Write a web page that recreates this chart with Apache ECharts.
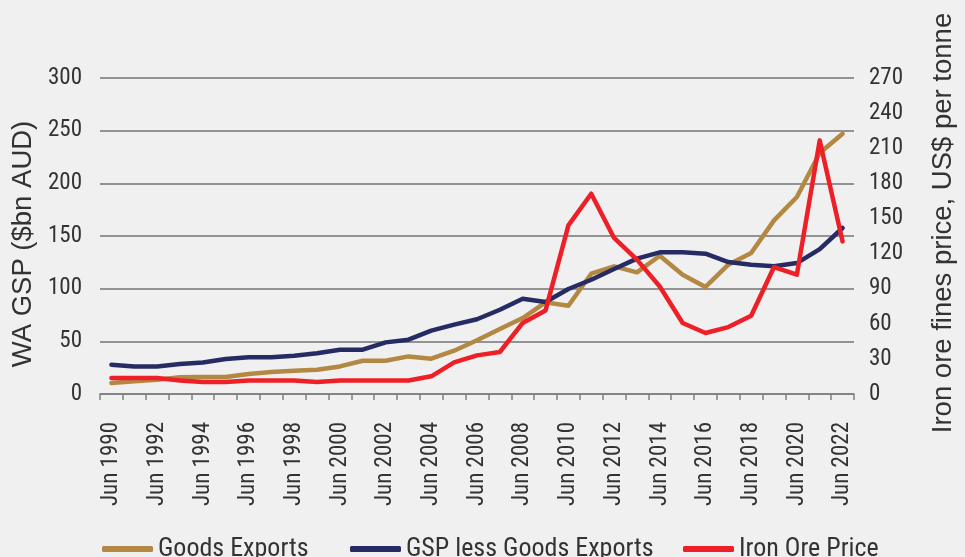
<!DOCTYPE html>
<html>
<head>
<meta charset="utf-8">
<script src="https://cdn.jsdelivr.net/npm/echarts@6/dist/echarts.min.js"></script>
<style>
html,body{margin:0;padding:0;background:#eff0ef;}
#c{width:965px;height:557px;}
</style>
</head>
<body>
<div id="c"></div>
<script>
const years = [1990,1991,1992,1993,1994,1995,1996,1997,1998,1999,2000,2001,2002,2003,2004,2005,2006,2007,2008,2009,2010,2011,2012,2013,2014,2015,2016,2017,2018,2019,2020,2021,2022];
const categories = years.map(y => 'Jun ' + y);
const goodsExports = [10.4,12.0,13.6,15.8,16.1,16.1,19.0,20.9,22.1,23.1,26.2,31.6,31.6,35.7,33.5,41.1,51,61.7,72.1,87.0,83.8,114.2,121.2,115.5,131.3,113.3,101.6,122.8,133.9,164.8,187,228.8,247.1];
const gspLessGoods = [27.8,26.2,26.2,28.5,30.0,33.2,34.8,34.8,36.4,38.6,42.1,42.1,49.0,51.6,60.1,65.8,71,80.0,90.5,87.3,99.7,108.5,118.6,128.5,134.5,134.5,133.2,125.3,122.8,121.2,124.3,137.6,157.6];
const ironOre = [13.6,13.6,13.6,11.6,10.2,10.2,11.6,11.6,11.6,10.2,11.6,11.6,11.6,11.6,15.1,27.0,33,35.9,60.7,71.4,144.1,171.1,133.3,114.8,91.9,60.7,52.1,57.2,66.9,108.5,101.9,216.7,130.4];
const leftTicks = {min:0, max:300, interval:50};
const rightTicks = {min:0, max:270, interval:30};

const NARROW = "'Liberation Sans Narrow','Roboto Condensed','Arial Narrow',sans-serif";
const REG = "'Liberation Sans',Arial,Helvetica,sans-serif";
const colors = {goods:'#b38843', gsp:'#262c63', iron:'#ee1f27'};

const chart = echarts.init(document.getElementById('c'), null, {renderer:'canvas'});
function legendFor(name, left){
  return {
    data:[name], left:left, top:531, icon:'roundRect', itemWidth:51, itemHeight:6,
    itemGap:0, textStyle:{fontFamily:NARROW, fontSize:26, color:'#333'}, selectedMode:false
  };
}
chart.setOption({
  backgroundColor:'#eff0ef',
  animation:false,
  grid:{left:100, right:95, top:78, bottom:163, containLabel:false},
  legend:[legendFor('Goods Exports',97), legendFor('GSP less Goods Exports',345), legendFor('Iron Ore Price',678)],
  xAxis:{
    type:'category', data:categories, boundaryGap:true,
    axisLine:{lineStyle:{color:'#808080', width:1.5}},
    axisTick:{show:true, interval:0, length:6, lineStyle:{color:'#808080', width:1.5}},
    axisLabel:{interval:1, rotate:90, margin:28, fontFamily:NARROW, fontSize:23, color:'#333'}
  },
  yAxis:[
    {type:'value', min:leftTicks.min, max:leftTicks.max, interval:leftTicks.interval, position:'left',
     name:'WA GSP ($bn AUD)', nameLocation:'middle', nameGap:60,
     nameTextStyle:{fontFamily:REG, fontSize:27.5, color:'#333', padding:[0,16,0,0]},
     axisLine:{show:false}, axisTick:{show:false},
     axisLabel:{margin:18, fontFamily:NARROW, fontSize:23, color:'#333'},
     splitLine:{lineStyle:{color:'#757575', width:1.5}}},
    {type:'value', min:rightTicks.min, max:rightTicks.max, interval:rightTicks.interval, position:'right',
     name:'Iron ore fines price, US$ per tonne', nameLocation:'middle', nameGap:75, nameRotate:90,
     nameTextStyle:{fontFamily:REG, fontSize:27.5, color:'#333', padding:[0,0,0,26]},
     axisLine:{show:false}, axisTick:{show:false},
     axisLabel:{margin:15, fontFamily:NARROW, fontSize:23, color:'#333'},
     splitLine:{show:false}}
  ],
  series:[
    {name:'Goods Exports', type:'line', data:goodsExports, yAxisIndex:0, showSymbol:false, symbol:'none',
     lineStyle:{color:colors.goods, width:4.5, cap:'round', join:'round'}, itemStyle:{color:colors.goods}},
    {name:'GSP less Goods Exports', type:'line', data:gspLessGoods, yAxisIndex:0, showSymbol:false, symbol:'none',
     lineStyle:{color:colors.gsp, width:4.5, cap:'round', join:'round'}, itemStyle:{color:colors.gsp}},
    {name:'Iron Ore Price', type:'line', data:ironOre, yAxisIndex:1, showSymbol:false, symbol:'none',
     lineStyle:{color:colors.iron, width:4.5, cap:'round', join:'round'}, itemStyle:{color:colors.iron}}
  ]
});
</script>
</body>
</html>
